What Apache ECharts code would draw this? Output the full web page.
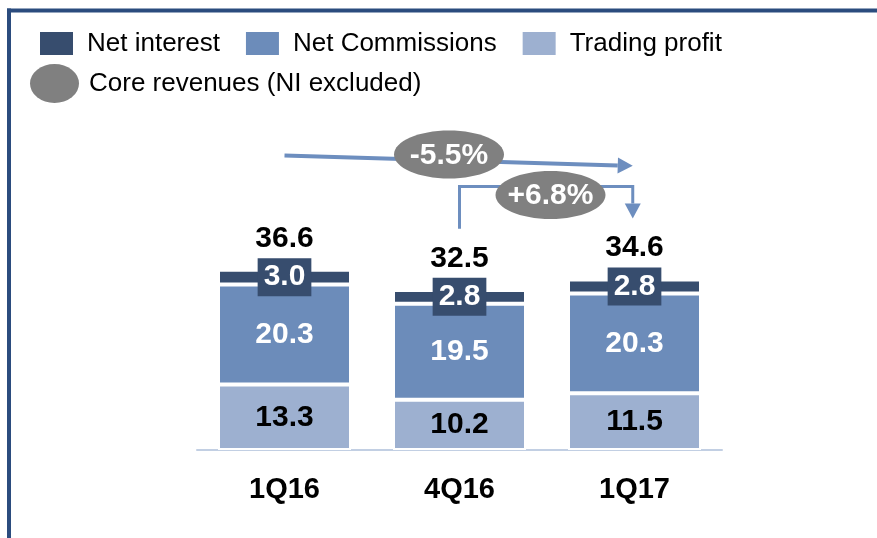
<!DOCTYPE html>
<html>
<head>
<meta charset="utf-8">
<script src="https://cdn.jsdelivr.net/npm/echarts@6/dist/echarts.min.js"></script>
<style>
  html, body { margin: 0; padding: 0; background: #fff; }
  #chart { width: 877px; height: 538px; }
</style>
</head>
<body>
<div id="chart"></div>
<script>
// quarters and revenue split (EUR m)
const quarters = ["1Q16", "4Q16", "1Q17"];
const tradingProfit = [13.3, 10.2, 11.5];
const netCommissions = [20.3, 19.5, 20.3];
const netInterest = [3.0, 2.8, 2.8];
const totals = [36.6, 32.5, 34.6];

// change bubbles: label, anchor as [category index, value]
const changeLabels = ["-5.5%", "+6.8%"];
const changeAnchors = [[0.94, 60], [1.52, 51.8]];

// arrows as polylines in [category index, value]
const trendArrows = [
  [[0, 59.8], [1.99, 57.7]],
  [[1, 44.9], [1, 53.5], [1.99, 53.5], [1.99, 47]]
];
const arrowWidths = [4, 3];

const FONT = "'Liberation Sans', Arial, sans-serif";
const C_NI = "#374d6e";
const C_COMM = "#6c8cba";
const C_TRADE = "#9db0d0";
const C_ARROW = "#6d8ebf";
const C_BUBBLE = "#808080";

const chart = echarts.init(document.getElementById("chart"));

function renderArrow(params, api) {
  const i = params.dataIndex;
  const pts = trendArrows[i].map((p) => api.coord(p));
  const last = pts[pts.length - 1];
  const prev = pts[pts.length - 2];
  const dx = last[0] - prev[0];
  const dy = last[1] - prev[1];
  const len = Math.hypot(dx, dy);
  const ux = dx / len, uy = dy / len;
  const headLen = 15, headHalf = 8;
  const base = [last[0] - ux * headLen, last[1] - uy * headLen];
  const head = [
    last,
    [base[0] - uy * headHalf, base[1] + ux * headHalf],
    [base[0] + uy * headHalf, base[1] - ux * headHalf]
  ];
  return {
    type: "group",
    children: [
      {
        type: "polyline",
        shape: { points: pts.slice(0, -1).concat([base]) },
        style: { stroke: C_ARROW, lineWidth: arrowWidths[i], fill: null }
      },
      { type: "polygon", shape: { points: head }, style: { fill: C_ARROW } }
    ]
  };
}

function renderBubble(params, api) {
  const i = params.dataIndex;
  const c = api.coord(changeAnchors[i]);
  return {
    type: "group",
    children: [
      { type: "ellipse", shape: { cx: c[0], cy: c[1], rx: 55, ry: 24 }, style: { fill: C_BUBBLE } },
      {
        type: "text",
        style: {
          text: changeLabels[i], x: c[0], y: c[1] + 1,
          align: "center", verticalAlign: "middle",
          fill: "#fff", font: "bold 30px " + FONT
        }
      }
    ]
  };
}

const segLabel = (color) => ({
  show: true,
  position: "inside",
  color: color,
  fontFamily: FONT,
  fontWeight: "bold",
  fontSize: 30,
  formatter: (p) => p.value.toFixed(1)
});

chart.setOption({
  animation: false,
  textStyle: { fontFamily: FONT },
  legend: [
    {
      data: ["Net interest", "Net Commissions", "Trading profit"],
      left: 33,
      top: 25,
      icon: "rect",
      itemWidth: 35,
      itemHeight: 25,
      itemGap: 24,
      selectedMode: false,
      textStyle: { fontSize: 26, color: "#000", fontFamily: FONT, padding: [0, 0, 0, 8] }
    },
    {
      data: ["Core revenues (NI excluded)"],
      left: 25,
      top: 59,
      icon: "path://M0,19.5a24.5,19.5 0 1,0 49,0a24.5,19.5 0 1,0 -49,0z",
      itemWidth: 49,
      itemHeight: 39,
      selectedMode: false,
      textStyle: { fontSize: 26, color: "#000", fontFamily: FONT, padding: [0, 0, 0, 5] }
    }
  ],
  grid: { left: 197, right: 155, top: 56, bottom: 88 },
  xAxis: [
    {
      type: "category",
      data: quarters,
      axisLine: { lineStyle: { color: "#c2cfe3", width: 2 } },
      axisTick: { show: false },
      axisLabel: { color: "#000", fontFamily: FONT, fontWeight: "bold", fontSize: 29, margin: 25 }
    },
    { type: "value", min: -0.5, max: 2.5, show: false }
  ],
  yAxis: { type: "value", min: 0, max: 80, show: false },
  series: [
    {
      name: "Trading profit",
      type: "bar",
      stack: "rev",
      data: tradingProfit,
      barCategoryGap: "24%",
      itemStyle: { color: C_TRADE, borderColor: "#fff", borderWidth: 2 },
      label: segLabel("#000")
    },
    {
      name: "Net Commissions",
      type: "bar",
      stack: "rev",
      data: netCommissions,
      itemStyle: { color: C_COMM, borderColor: "#fff", borderWidth: 2 },
      label: segLabel("#fff")
    },
    {
      name: "Net interest",
      type: "bar",
      stack: "rev",
      data: netInterest,
      itemStyle: { color: C_NI, borderColor: "#fff", borderWidth: 2 },
      label: Object.assign(segLabel("#fff"), {
        backgroundColor: C_NI,
        padding: [5, 6, 3, 6]
      })
    },
    {
      // totals above each stack
      name: "total",
      type: "scatter",
      data: totals,
      symbolSize: 1,
      itemStyle: { color: "transparent", opacity: 1 },
      label: {
        show: true,
        position: "top",
        distance: 16,
        color: "#000",
        opacity: 1,
        fontFamily: FONT,
        fontWeight: "bold",
        fontSize: 30,
        formatter: (p) => p.value.toFixed(1)
      },
      z: 5
    },
    {
      name: "arrows",
      type: "custom",
      xAxisIndex: 1,
      data: trendArrows.map((a, i) => [i, 0]),
      renderItem: renderArrow,
      z: 6
    },
    {
      name: "Core revenues (NI excluded)",
      type: "custom",
      xAxisIndex: 1,
      itemStyle: { color: C_BUBBLE },
      data: changeAnchors.map((a, i) => [i, 0]),
      renderItem: renderBubble,
      z: 7
    }
  ],
  graphic: [
    { type: "rect", shape: { x: 7, y: 8.5, width: 870, height: 4 }, style: { fill: "#2b4c7e" }, silent: true },
    { type: "rect", shape: { x: 7, y: 8.5, width: 4, height: 530 }, style: { fill: "#2b4c7e" }, silent: true }
  ]
});

window.addEventListener("resize", () => chart.resize());
</script>
</body>
</html>
